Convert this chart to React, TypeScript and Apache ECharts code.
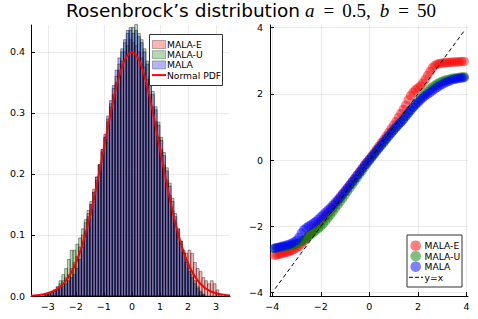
import React, { useEffect, useRef } from "react";
import * as echarts from "echarts";

// ---------- data ----------
const histBinStart = -3.3;
const histBinWidth = 0.1;
const histMALAE = [
  0, 0.002, 0.004, 0.006, 0.008, 0.01, 0.015, 0.02, 0.025, 0.03,
  0.035, 0.045, 0.055, 0.065, 0.08, 0.1, 0.12, 0.135, 0.15, 0.17,
  0.19, 0.215, 0.24, 0.26, 0.285, 0.31, 0.33, 0.35, 0.37, 0.385,
  0.4, 0.41, 0.42, 0.415, 0.41, 0.4, 0.39, 0.375, 0.355, 0.33,
  0.31, 0.285, 0.26, 0.24, 0.215, 0.19, 0.165, 0.14, 0.12, 0.1,
  0.085, 0.075, 0.07, 0.075, 0.07, 0.055, 0.045, 0.04, 0.03, 0.025,
  0.02, 0.025, 0.02, 0.01, 0.003,
];
const histMALAU = [
  0, 0, 0.002, 0.004, 0.006, 0.01, 0.015, 0.025, 0.035, 0.045,
  0.06, 0.075, 0.075, 0.085, 0.095, 0.11, 0.125, 0.14, 0.155, 0.175,
  0.195, 0.215, 0.235, 0.26, 0.29, 0.315, 0.34, 0.36, 0.38, 0.4,
  0.415, 0.43, 0.435, 0.44, 0.445, 0.43, 0.42, 0.405, 0.385, 0.36,
  0.335, 0.31, 0.285, 0.26, 0.235, 0.21, 0.185, 0.16, 0.135, 0.11,
  0.09, 0.07, 0.055, 0.045, 0.035, 0.025, 0.015, 0.008, 0.003, 0,
  0, 0, 0, 0, 0,
];
const histMALA = [
  0, 0, 0.002, 0.003, 0.005, 0.008, 0.01, 0.013, 0.016, 0.02,
  0.025, 0.03, 0.035, 0.045, 0.06, 0.08, 0.105, 0.13, 0.15, 0.17,
  0.195, 0.215, 0.24, 0.265, 0.295, 0.32, 0.345, 0.37, 0.39, 0.405,
  0.42, 0.435, 0.44, 0.43, 0.435, 0.425, 0.415, 0.4, 0.38, 0.355,
  0.33, 0.305, 0.28, 0.255, 0.23, 0.205, 0.18, 0.155, 0.13, 0.11,
  0.09, 0.07, 0.055, 0.04, 0.03, 0.02, 0.012, 0.006, 0.002, 0,
  0, 0, 0, 0, 0,
];

const pdfX = [
  -3.6, -3.4, -3.2, -3.0, -2.8, -2.6, -2.4, -2.2, -2.0, -1.8, -1.6, -1.4, -1.2,
  -1.0, -0.8, -0.6, -0.4, -0.2, 0.0, 0.2, 0.4, 0.6, 0.8, 1.0, 1.2, 1.4, 1.6,
  1.8, 2.0, 2.2, 2.4, 2.6, 2.8, 3.0, 3.2, 3.4, 3.5,
];
const pdfY = [
  0.0006, 0.0012, 0.0024, 0.0044, 0.0079, 0.0136, 0.0224, 0.0355, 0.054, 0.079,
  0.1109, 0.1497, 0.1942, 0.242, 0.2897, 0.3332, 0.3683, 0.391, 0.3989, 0.391,
  0.3683, 0.3332, 0.2897, 0.242, 0.1942, 0.1497, 0.1109, 0.079, 0.054, 0.0355,
  0.0224, 0.0136, 0.0079, 0.0044, 0.0024, 0.0012, 0.0009,
];

const qqTheoretical = [
  -3.9, -3.8, -3.7, -3.6, -3.5, -3.4, -3.3, -3.2, -3.1, -3.0,
  -2.9, -2.8, -2.7, -2.6, -2.5, -2.4, -2.3, -2.2, -2.1, -2.0,
  -1.9, -1.8, -1.7, -1.6, -1.5, -1.4, -1.3, -1.2, -1.1, -1.0,
  -0.9, -0.8, -0.7, -0.6, -0.5, -0.4, -0.3, -0.2, -0.1, 0.0,
  0.1, 0.2, 0.3, 0.4, 0.5, 0.6, 0.7, 0.8, 0.9, 1.0,
  1.1, 1.2, 1.3, 1.4, 1.5, 1.6, 1.7, 1.8, 1.9, 2.0,
  2.1, 2.2, 2.3, 2.4, 2.5, 2.6, 2.7, 2.8, 2.9, 3.0,
  3.1, 3.2, 3.3, 3.4, 3.5, 3.6, 3.7, 3.8, 3.9,
];
const qqMALAE = [
  -2.87, -2.86, -2.84, -2.82, -2.8, -2.78, -2.76, -2.73, -2.69, -2.65,
  -2.6, -2.53, -2.45, -2.37, -2.28, -2.2, -2.12, -2.03, -1.94, -1.85,
  -1.77, -1.68, -1.6, -1.51, -1.42, -1.33, -1.23, -1.14, -1.04, -0.95,
  -0.85, -0.75, -0.65, -0.55, -0.45, -0.35, -0.25, -0.15, -0.06, 0.03,
  0.13, 0.23, 0.33, 0.43, 0.53, 0.63, 0.73, 0.84, 0.95, 1.06,
  1.17, 1.29, 1.41, 1.53, 1.66, 1.82, 1.95, 2.05, 2.12, 2.18,
  2.24, 2.33, 2.44, 2.56, 2.68, 2.79, 2.86, 2.9, 2.92, 2.93,
  2.94, 2.95, 2.95, 2.96, 2.96, 2.97, 2.97, 2.98, 2.98,
];
const qqMALAU = [
  -2.66, -2.65, -2.64, -2.63, -2.62, -2.61, -2.59, -2.57, -2.55, -2.52,
  -2.49, -2.45, -2.4, -2.35, -2.3, -2.24, -2.18, -2.12, -2.06, -2.0,
  -1.92, -1.83, -1.74, -1.65, -1.55, -1.45, -1.35, -1.25, -1.15, -1.05,
  -0.94, -0.84, -0.73, -0.63, -0.53, -0.42, -0.32, -0.22, -0.12, -0.02,
  0.08, 0.17, 0.27, 0.36, 0.45, 0.54, 0.63, 0.72, 0.81, 0.9,
  0.99, 1.07, 1.15, 1.24, 1.32, 1.41, 1.5, 1.6, 1.69, 1.78,
  1.86, 1.94, 2.01, 2.08, 2.15, 2.21, 2.26, 2.31, 2.35, 2.38,
  2.41, 2.43, 2.45, 2.47, 2.48, 2.49, 2.5, 2.51, 2.52,
];
const qqMALA = [
  -2.66, -2.64, -2.62, -2.6, -2.58, -2.56, -2.54, -2.51, -2.47, -2.42,
  -2.33, -2.2, -2.1, -2.04, -1.99, -1.95, -1.9, -1.85, -1.78, -1.71,
  -1.64, -1.57, -1.5, -1.43, -1.35, -1.27, -1.19, -1.1, -1.01, -0.92,
  -0.83, -0.74, -0.64, -0.55, -0.45, -0.36, -0.26, -0.16, -0.07, 0.02,
  0.11, 0.2, 0.29, 0.38, 0.47, 0.56, 0.65, 0.74, 0.83, 0.91,
  0.99, 1.07, 1.15, 1.23, 1.33, 1.42, 1.51, 1.59, 1.67, 1.74,
  1.81, 1.88, 1.94, 1.99, 2.04, 2.1, 2.15, 2.2, 2.25, 2.29,
  2.33, 2.36, 2.39, 2.42, 2.44, 2.46, 2.47, 2.48, 2.49,
];
const refLineEnds = [-3.88, 3.88];

const histXTicks = [-3, -2, -1, 0, 1, 2, 3];
const histYTicks = [0, 0.1, 0.2, 0.3, 0.4];
const qqTicks = [-4, -2, 0, 2, 4];

// ---------- styling ----------
const SANS = "DejaVu Sans";
const fmtMinus = (v: number) => String(v).replace("-", "\u2212");

function histSeries(name: string, values: number[], fill: string) {
  const data = values.map((h, i) => [
    histBinStart + i * histBinWidth,
    histBinStart + (i + 1) * histBinWidth,
    h,
  ]);
  return {
    type: "custom",
    name,
    xAxisIndex: 0,
    yAxisIndex: 0,
    data,
    encode: { x: [0, 1], y: 2 },
    renderItem: (_params: any, api: any) => {
      const h = api.value(2);
      if (!h) return null;
      const a = api.coord([api.value(0), h]);
      const b = api.coord([api.value(1), 0]);
      return {
        type: "rect",
        shape: { x: a[0], y: a[1], width: b[0] - a[0], height: b[1] - a[1] },
        style: { fill, stroke: "rgba(0,0,0,0.42)", lineWidth: 0.9 },
      };
    },
  };
}

function axisCommon(ticks: number[], fmt: (v: number) => string, margin: number) {
  return {
    axisLine: { show: true, onZero: false, lineStyle: { color: "#000", width: 1 } },
    axisTick: {
      show: true,
      inside: true,
      length: 4,
      customValues: ticks,
      lineStyle: { color: "#000", width: 1 },
    },
    axisLabel: {
      customValues: ticks,
      formatter: fmt,
      fontSize: 9.5,
      fontFamily: SANS,
      color: "#000",
      margin,
    },
    splitLine: { show: true, lineStyle: { color: "rgba(0,0,0,0.1)", width: 0.8 } },
  };
}

function legendRow(y: number, label: string, x: number) {
  return {
    type: "text",
    z: 101,
    style: {
      text: label,
      x,
      y,
      fill: "#000",
      font: `9.2px "${SANS}"`,
      textVerticalAlign: "middle",
      verticalAlign: "middle",
    },
  };
}

export default function App() {
  const ref = useRef<HTMLDivElement>(null);
  useEffect(() => {
    if (!ref.current) return;
    const chart = echarts.init(ref.current, undefined, { renderer: "svg" });
    const qq = (ys: number[]) => qqTheoretical.map((x, i) => [x, ys[i]]);
    const leftRows = [44.5, 54.7, 64.9, 75.1];
    const rightRows = [245.7, 256.2, 266.7, 277.3];
    const t = { color: "#000", fontWeight: "normal" as const };
    chart.setOption({
      animation: false,
      backgroundColor: "#fff",
      title: {
        left: 66,
        top: 1,
        padding: 0,
        text: "{s|Rosenbrock\u2019s distribution}{m|a}{e|=}{n|0.5,}{m|b}{e|=}{k|50}",
        textStyle: {
          fontWeight: "normal",
          rich: {
            s: { ...t, fontFamily: SANS, fontSize: 18.5, padding: [0, 5, 0, 0] },
            m: { ...t, fontFamily: "Liberation Serif", fontStyle: "italic", fontSize: 19 },
            e: { ...t, fontFamily: "Liberation Serif", fontSize: 19, padding: [0, 8, 0, 9] },
            n: { ...t, fontFamily: "Liberation Serif", fontSize: 19, padding: [0, 9, 0, 0] },
            k: { ...t, fontFamily: "Liberation Serif", fontSize: 19 },
          },
        },
      },
      grid: [
        { left: 31, top: 25, width: 199, height: 271 },
        { left: 270, top: 25, width: 198, height: 271 },
      ],
      xAxis: [
        { type: "value", gridIndex: 0, min: -3.6, max: 3.5, ...axisCommon(histXTicks, fmtMinus, 5) },
        { type: "value", gridIndex: 1, min: -4.09, max: 4.06, ...axisCommon(qqTicks, fmtMinus, 5) },
      ],
      yAxis: [
        {
          type: "value",
          gridIndex: 0,
          min: 0,
          max: 0.444,
          ...axisCommon(histYTicks, (v: number) => v.toFixed(1), 6),
        },
        { type: "value", gridIndex: 1, min: -4.1, max: 4.08, ...axisCommon(qqTicks, fmtMinus, 7) },
      ],
      series: [
        histSeries("MALA-E", histMALAE, "rgba(255,0,0,0.3)"),
        histSeries("MALA-U", histMALAU, "rgba(0,128,0,0.3)"),
        histSeries("MALA", histMALA, "rgba(0,0,255,0.3)"),
        {
          type: "line",
          name: "Normal PDF",
          xAxisIndex: 0,
          yAxisIndex: 0,
          data: pdfX.map((x, i) => [x, pdfY[i]]),
          smooth: 0.4,
          showSymbol: false,
          symbol: "none",
          lineStyle: { color: "#ff0000", width: 2 },
        },
        {
          type: "scatter",
          name: "MALA-E ",
          xAxisIndex: 1,
          yAxisIndex: 1,
          data: qq(qqMALAE),
          symbolSize: 9.5,
          itemStyle: { color: "rgba(255,0,0,0.6)" },
        },
        {
          type: "scatter",
          name: "MALA-U ",
          xAxisIndex: 1,
          yAxisIndex: 1,
          data: qq(qqMALAU),
          symbolSize: 9.5,
          itemStyle: { color: "rgba(0,128,0,0.6)" },
        },
        {
          type: "scatter",
          name: "MALA ",
          xAxisIndex: 1,
          yAxisIndex: 1,
          data: qq(qqMALA),
          symbolSize: 9.5,
          itemStyle: { color: "rgba(0,0,255,0.6)" },
        },
        {
          type: "line",
          name: "y=x",
          xAxisIndex: 1,
          yAxisIndex: 1,
          data: [
            [refLineEnds[0], refLineEnds[0]],
            [refLineEnds[1], refLineEnds[1]],
          ],
          showSymbol: false,
          symbol: "none",
          lineStyle: { color: "#000", width: 1, type: [4, 3] },
        },
      ],
      graphic: [
        // left legend
        {
          type: "rect",
          z: 100,
          shape: { x: 149.5, y: 34.5, width: 73, height: 51 },
          style: { fill: "#fff", stroke: "#333", lineWidth: 1 },
        },
        ...[
          "rgba(255,0,0,0.3)",
          "rgba(0,128,0,0.3)",
          "rgba(0,0,255,0.3)",
        ].map((c, i) => ({
          type: "rect",
          z: 101,
          shape: { x: 152.5, y: leftRows[i] - 4, width: 13, height: 8 },
          style: { fill: c, stroke: "rgba(0,0,0,0.35)", lineWidth: 0.8 },
        })),
        {
          type: "line",
          z: 101,
          shape: { x1: 152, y1: leftRows[3], x2: 166, y2: leftRows[3] },
          style: { stroke: "#ff0000", lineWidth: 2 },
        },
        legendRow(leftRows[0], "MALA-E", 167),
        legendRow(leftRows[1], "MALA-U", 167),
        legendRow(leftRows[2], "MALA", 167),
        legendRow(leftRows[3], "Normal PDF", 167),
        // right legend
        {
          type: "rect",
          z: 100,
          shape: { x: 407, y: 235, width: 55, height: 52 },
          style: { fill: "#fff", stroke: "#333", lineWidth: 1 },
        },
        ...["rgba(255,0,0,0.5)", "rgba(0,128,0,0.5)", "rgba(0,0,255,0.5)"].map((c, i) => ({
          type: "circle",
          z: 101,
          shape: { cx: 415.7, cy: rightRows[i], r: 5.3 },
          style: { fill: c },
        })),
        {
          type: "line",
          z: 101,
          shape: { x1: 409, y1: rightRows[3], x2: 423, y2: rightRows[3] },
          style: { stroke: "#000", lineWidth: 1, lineDash: [4, 2] },
        },
        legendRow(rightRows[0], "MALA-E", 424.5),
        legendRow(rightRows[1], "MALA-U", 424.5),
        legendRow(rightRows[2], "MALA", 424.5),
        legendRow(rightRows[3], "y=x", 424.5),
      ],
    });
    return () => chart.dispose();
  }, []);
  return (
    <div
      ref={ref}
      style={{ position: "fixed", left: 0, top: 0, width: 478, height: 319, background: "#fff" }}
    />
  );
}
